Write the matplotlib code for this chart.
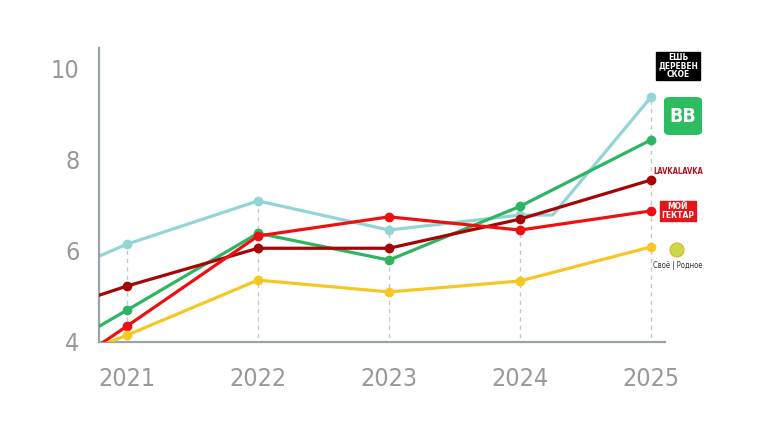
import matplotlib.pyplot as plt
from matplotlib.patches import FancyBboxPatch, Ellipse

years = [2020, 2021, 2022, 2023, 2024, 2025]
year_labels = ['2021', '2022', '2023', '2024', '2025']

# values (2020 only sets the slope entering the plot)
cyan_x = [2020, 2021, 2022, 2023, 2024, 2024.25, 2025]
cyan_y = [4.89, 6.13, 7.08, 6.44, 6.77, 6.77, 9.36]
green_y = [3.01, 4.68, 6.37, 5.78, 6.96, 8.42]
darkred_y = [4.26, 5.21, 6.04, 6.04, 6.68, 7.54]
red_y = [2.37, 4.33, 6.31, 6.73, 6.44, 6.86]
yellow_y = [3.0, 4.13, 5.34, 5.08, 5.32, 6.07]

c_cyan = '#93d4d4'
c_green = '#2eb562'
c_darkred = '#a50505'
c_red = '#ee1010'
c_yellow = '#f6c623'
grey = '#9aa3ab'

plt.rcParams['font.family'] = ['DejaVu Sans Condensed', 'Liberation Sans Narrow', 'DejaVu Sans']
plt.rcParams['font.stretch'] = 'condensed'

fig = plt.figure(figsize=(7.68, 4.40), dpi=100)
ax = fig.add_axes([99 / 768, 1 - 342 / 440, 566 / 768, 294 / 440])

# dashed guides from top marker down
tops = [max(c, g, d, r, y) for c, g, d, r, y in
        zip([6.13, 7.08, 6.44, 6.77, 9.36], green_y[1:], darkred_y[1:], red_y[1:], yellow_y[1:])]
for yr, t in zip(years[1:], tops):
    ax.plot([yr, yr], [3.9, t], color='#c4c8cc', lw=1, ls=(0, (3, 3)), zorder=1)

lw = 2.3
ax.plot(cyan_x, cyan_y, color=c_cyan, lw=lw, zorder=2)
ax.plot(years[1:], [6.13, 7.08, 6.44, 6.77, 9.36], 'o', color=c_cyan, ms=6, zorder=2)
for ys, col in [(green_y, c_green), (darkred_y, c_darkred), (red_y, c_red), (yellow_y, c_yellow)]:
    ax.plot(years, ys, color=col, lw=lw, zorder=3)
    ax.plot(years[1:], ys[1:], 'o', color=col, ms=6, zorder=3)

ax.set_xlim(2020.786, 2025.107)
ax.set_ylim(3.98, 10.44)

for s in ['top', 'right']:
    ax.spines[s].set_visible(False)
for s in ['left', 'bottom']:
    ax.spines[s].set_color(grey)
    ax.spines[s].set_linewidth(1.6)

ax.set_yticks([4, 6, 8, 10])
ax.set_xticks(years[1:])
ax.set_xticklabels(year_labels)
ax.tick_params(axis='both', length=0, labelsize=18, labelcolor='#999999')
ax.tick_params(axis='x', pad=18)
ax.tick_params(axis='y', pad=14)

# logos as simple drawings
fa = fig.transFigure
def fx(px):
    return px / 768
def fy(py):
    return 1 - py / 440

fig.text(fx(678), fy(66), 'ЕШЬ\nДЕРЕВЕН\nСКОЕ', ha='center', va='center', fontsize=6,
         fontweight='bold', color='white', linespacing=0.9,
         bbox=dict(boxstyle='square,pad=0.2', fc='black', ec='black'))
fig.patches.append(FancyBboxPatch((fx(664), fy(135)), fx(38), 38 / 440,
                                  boxstyle='round,pad=0,rounding_size=0.008',
                                  fc='#2dbd61', ec='none', transform=fa))
fig.text(fx(683), fy(116), 'BB', ha='center', va='center', fontsize=14,
         fontweight='bold', color='white', family='DejaVu Sans')
fig.text(fx(678), fy(172), 'LAVKALAVKA', ha='center', va='center', fontsize=5.5,
         color='#b0141c', fontweight='bold')
fig.text(fx(678), fy(211), 'МОЙ\nГЕКТАР', ha='center', va='center', fontsize=6,
         color='white', fontweight='bold', linespacing=0.95,
         bbox=dict(boxstyle='square,pad=0.2', fc='#e3161b', ec='#e3161b'))
fig.patches.append(Ellipse((fx(677), fy(250)), 14 / 768, 14 / 440, fc='#c9d94a', ec='#e0b22a',
                           lw=0.8, transform=fa))
fig.text(fx(678), fy(265), 'Своё | Родное', ha='center', va='center', fontsize=5.5,
         color='#333333')

fig.savefig('out.png', dpi=100)
